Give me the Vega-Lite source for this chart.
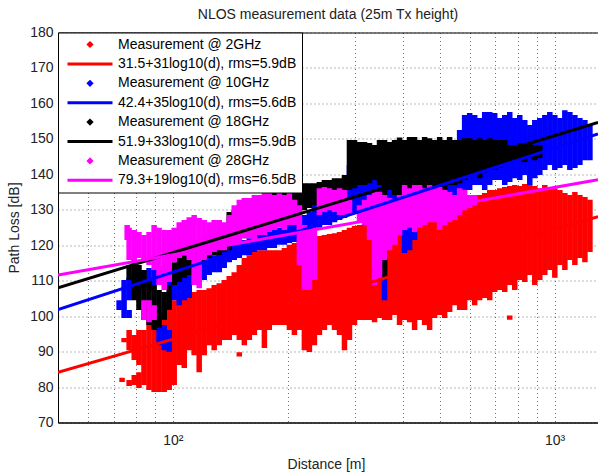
{
"$schema":"https://vega.github.io/schema/vega-lite/v6.json",
"width":540,"height":390,"autosize":"none",
"padding":{"left":58,"top":32.5,"right":0,"bottom":51.5},
"title":{"text":"NLOS measurement data (25m Tx height)","font":"Liberation Sans","fontSize":14,"fontWeight":"normal","color":"#222","offset":4,"anchor":"middle"},
"datasets":{
"streaks":[
{"s":"m2","d":73.6,"lo":81.4,"hi":82.6},{"s":"m2","d":74.5,"lo":92.6,"hi":93.8},
{"s":"m2","d":76.8,"lo":90.4,"hi":96.1},{"s":"m2","d":76.8,"lo":80.3,"hi":82.0},
{"s":"m2","d":79.2,"lo":87.6,"hi":94.7},{"s":"m2","d":79.2,"lo":80.6,"hi":83.4},
{"s":"m2","d":81.5,"lo":86.2,"hi":96.1},{"s":"m2","d":81.5,"lo":79.7,"hi":84.2},
{"s":"m2","d":84.0,"lo":80.6,"hi":96.1},{"s":"m2","d":86.6,"lo":79.2,"hi":98.9},
{"s":"m2","d":89.3,"lo":78.6,"hi":99.5},{"s":"m2","d":92.0,"lo":78.6,"hi":101.2},
{"s":"m2","d":94.9,"lo":78.6,"hi":103.1},{"s":"m2","d":97.8,"lo":79.2,"hi":103.1},
{"s":"m2","d":100.8,"lo":80.6,"hi":104.5},{"s":"m2","d":103.9,"lo":86.2,"hi":104.5},
{"s":"m2","d":107.1,"lo":85.4,"hi":105.1},{"s":"m2","d":110.4,"lo":90.4,"hi":106.0},
{"s":"m2","d":113.7,"lo":89.0,"hi":106.8},{"s":"m2","d":117.2,"lo":84.2,"hi":107.4},
{"s":"m2","d":120.8,"lo":89.0,"hi":107.4},{"s":"m2","d":124.5,"lo":91.8,"hi":107.9},
{"s":"m2","d":128.3,"lo":90.4,"hi":108.8},{"s":"m2","d":132.3,"lo":91.8,"hi":109.3},
{"s":"m2","d":136.3,"lo":93.3,"hi":110.2},{"s":"m2","d":140.5,"lo":93.3,"hi":111.3},
{"s":"m2","d":144.8,"lo":94.7,"hi":112.4},{"s":"m2","d":149.3,"lo":93.3,"hi":114.4},
{"s":"m2","d":149.3,"lo":88.6,"hi":89.8},{"s":"m2","d":153.9,"lo":91.8,"hi":116.4},
{"s":"m2","d":158.6,"lo":93.3,"hi":117.2},{"s":"m2","d":163.5,"lo":94.7,"hi":118.1},
{"s":"m2","d":168.5,"lo":96.1,"hi":118.6},{"s":"m2","d":173.7,"lo":91.0,"hi":118.6},
{"s":"m2","d":178.9,"lo":96.1,"hi":118.6},{"s":"m2","d":184.5,"lo":97.5,"hi":118.6},
{"s":"m2","d":190.1,"lo":97.5,"hi":118.6},{"s":"m2","d":196.0,"lo":97.5,"hi":119.2},
{"s":"m2","d":202.0,"lo":96.1,"hi":120.1},{"s":"m2","d":208.2,"lo":94.7,"hi":120.6},
{"s":"m2","d":214.5,"lo":96.1,"hi":121.5},{"s":"m2","d":221.1,"lo":90.4,"hi":122.0},
{"s":"m2","d":227.9,"lo":89.9,"hi":122.3},{"s":"m2","d":234.9,"lo":91.8,"hi":122.6},
{"s":"m2","d":242.1,"lo":94.7,"hi":122.6},{"s":"m2","d":249.5,"lo":96.1,"hi":122.9},
{"s":"m2","d":257.2,"lo":97.5,"hi":123.2},{"s":"m2","d":265.1,"lo":96.1,"hi":123.4},
{"s":"m2","d":273.3,"lo":94.7,"hi":123.7},{"s":"m2","d":281.6,"lo":90.4,"hi":124.3},
{"s":"m2","d":290.2,"lo":93.3,"hi":124.9},{"s":"m2","d":299.2,"lo":97.5,"hi":125.4},
{"s":"m2","d":308.3,"lo":98.9,"hi":125.7},{"s":"m2","d":317.8,"lo":98.9,"hi":126.0},
{"s":"m2","d":327.5,"lo":98.9,"hi":126.3},{"s":"m2","d":337.6,"lo":98.3,"hi":126.5},
{"s":"m2","d":347.9,"lo":99.5,"hi":126.5},{"s":"m2","d":358.6,"lo":98.9,"hi":127.1},
{"s":"m2","d":369.6,"lo":98.9,"hi":127.1},{"s":"m2","d":381.0,"lo":100.3,"hi":127.7},
{"s":"m2","d":392.6,"lo":97.5,"hi":127.1},{"s":"m2","d":404.7,"lo":98.9,"hi":127.7},
{"s":"m2","d":417.1,"lo":98.3,"hi":128.2},{"s":"m2","d":429.9,"lo":96.1,"hi":129.4},
{"s":"m2","d":443.1,"lo":98.9,"hi":129.9},{"s":"m2","d":456.7,"lo":97.5,"hi":129.9},
{"s":"m2","d":470.6,"lo":96.1,"hi":130.5},{"s":"m2","d":485.1,"lo":99.5,"hi":130.8},
{"s":"m2","d":500.0,"lo":100.3,"hi":131.1},{"s":"m2","d":515.3,"lo":99.5,"hi":131.3},
{"s":"m2","d":531.1,"lo":101.2,"hi":131.3},{"s":"m2","d":547.4,"lo":103.1,"hi":131.9},
{"s":"m2","d":564.1,"lo":101.7,"hi":132.8},{"s":"m2","d":581.4,"lo":101.7,"hi":132.8},
{"s":"m2","d":599.3,"lo":104.5,"hi":133.3},{"s":"m2","d":617.7,"lo":103.1,"hi":133.6},
{"s":"m2","d":636.6,"lo":104.5,"hi":134.2},{"s":"m2","d":656.2,"lo":105.1,"hi":134.7},
{"s":"m2","d":676.4,"lo":104.5,"hi":135.6},{"s":"m2","d":697.1,"lo":106.8,"hi":135.6},
{"s":"m2","d":718.5,"lo":107.4,"hi":136.1},{"s":"m2","d":740.6,"lo":106.8,"hi":136.4},
{"s":"m2","d":763.3,"lo":108.8,"hi":136.7},{"s":"m2","d":763.3,"lo":99.0,"hi":100.2},
{"s":"m2","d":786.7,"lo":107.4,"hi":137.0},{"s":"m2","d":810.9,"lo":110.2,"hi":136.7},
{"s":"m2","d":835.7,"lo":109.6,"hi":137.3},{"s":"m2","d":861.4,"lo":111.6,"hi":137.0},
{"s":"m2","d":887.8,"lo":108.8,"hi":136.7},{"s":"m2","d":915.0,"lo":110.2,"hi":136.1},
{"s":"m2","d":943.1,"lo":111.6,"hi":137.0},{"s":"m2","d":972.0,"lo":113.0,"hi":136.4},
{"s":"m2","d":1001.8,"lo":110.8,"hi":136.1},{"s":"m2","d":1032.6,"lo":114.4,"hi":135.6},
{"s":"m2","d":1064.3,"lo":113.0,"hi":134.7},{"s":"m2","d":1097.0,"lo":115.8,"hi":134.2},
{"s":"m2","d":1130.7,"lo":114.4,"hi":135.0},{"s":"m2","d":1165.4,"lo":116.4,"hi":134.2},
{"s":"m2","d":1201.2,"lo":115.2,"hi":133.6},{"s":"m2","d":1238.1,"lo":118.1,"hi":132.8},

{"s":"m10","d":72.3,"lo":101.7,"hi":104.5},{"s":"m10","d":74.5,"lo":99.5,"hi":110.2},
{"s":"m10","d":76.8,"lo":104.5,"hi":110.8},{"s":"m10","d":76.8,"lo":99.5,"hi":101.7},
{"s":"m10","d":79.2,"lo":106.0,"hi":111.6},{"s":"m10","d":81.5,"lo":107.4,"hi":112.4},
{"s":"m10","d":84.0,"lo":108.8,"hi":113.0},{"s":"m10","d":86.6,"lo":107.4,"hi":113.6},
{"s":"m10","d":89.3,"lo":108.8,"hi":113.0},{"s":"m10","d":92.0,"lo":108.8,"hi":113.6},
{"s":"m10","d":92.0,"lo":91.8,"hi":97.5},{"s":"m10","d":94.9,"lo":109.6,"hi":113.0},
{"s":"m10","d":94.9,"lo":90.4,"hi":97.5},{"s":"m10","d":97.8,"lo":108.8,"hi":114.4},
{"s":"m10","d":97.8,"lo":89.9,"hi":96.1},{"s":"m10","d":100.8,"lo":104.5,"hi":113.6},
{"s":"m10","d":103.9,"lo":103.1,"hi":113.6},{"s":"m10","d":107.1,"lo":104.5,"hi":113.0},
{"s":"m10","d":110.4,"lo":105.1,"hi":113.6},{"s":"m10","d":113.7,"lo":108.8,"hi":115.2},
{"s":"m10","d":117.2,"lo":109.6,"hi":115.8},{"s":"m10","d":120.8,"lo":110.2,"hi":116.4},
{"s":"m10","d":124.5,"lo":111.6,"hi":117.2},{"s":"m10","d":128.3,"lo":112.4,"hi":117.2},
{"s":"m10","d":132.3,"lo":112.4,"hi":118.1},{"s":"m10","d":136.3,"lo":113.6,"hi":118.6},
{"s":"m10","d":140.5,"lo":115.2,"hi":120.1},{"s":"m10","d":144.8,"lo":115.8,"hi":120.6},
{"s":"m10","d":149.3,"lo":116.4,"hi":120.9},{"s":"m10","d":153.9,"lo":117.2,"hi":121.5},
{"s":"m10","d":158.6,"lo":117.2,"hi":122.0},{"s":"m10","d":163.5,"lo":118.1,"hi":122.6},
{"s":"m10","d":168.5,"lo":118.6,"hi":122.9},{"s":"m10","d":173.7,"lo":118.6,"hi":123.4},
{"s":"m10","d":178.9,"lo":119.2,"hi":123.7},{"s":"m10","d":184.5,"lo":119.2,"hi":124.3},
{"s":"m10","d":190.1,"lo":120.1,"hi":124.9},{"s":"m10","d":196.0,"lo":120.1,"hi":125.1},
{"s":"m10","d":202.0,"lo":120.6,"hi":125.7},{"s":"m10","d":208.2,"lo":120.9,"hi":126.5},
{"s":"m10","d":214.5,"lo":122.0,"hi":127.7},{"s":"m10","d":221.1,"lo":122.9,"hi":128.5},
{"s":"m10","d":227.9,"lo":123.7,"hi":129.4},{"s":"m10","d":234.9,"lo":124.3,"hi":136.1},
{"s":"m10","d":242.1,"lo":124.9,"hi":136.1},{"s":"m10","d":249.5,"lo":125.7,"hi":135.6},
{"s":"m10","d":257.2,"lo":125.7,"hi":131.3},{"s":"m10","d":265.1,"lo":126.5,"hi":131.3},
{"s":"m10","d":273.3,"lo":127.1,"hi":132.8},{"s":"m10","d":281.6,"lo":127.7,"hi":133.3},
{"s":"m10","d":290.2,"lo":128.5,"hi":142.6},{"s":"m10","d":299.2,"lo":129.4,"hi":142.6},
{"s":"m10","d":308.3,"lo":129.9,"hi":141.8},{"s":"m10","d":317.8,"lo":129.9,"hi":141.2},
{"s":"m10","d":327.5,"lo":129.9,"hi":140.6},{"s":"m10","d":337.6,"lo":130.5,"hi":141.2},
{"s":"m10","d":347.9,"lo":131.3,"hi":141.2},{"s":"m10","d":358.6,"lo":104.5,"hi":140.6},
{"s":"m10","d":369.6,"lo":131.3,"hi":141.2},{"s":"m10","d":381.0,"lo":131.3,"hi":141.8},
{"s":"m10","d":392.6,"lo":128.5,"hi":141.2},{"s":"m10","d":404.7,"lo":117.8,"hi":140.6},
{"s":"m10","d":417.1,"lo":118.6,"hi":139.8},{"s":"m10","d":429.9,"lo":121.5,"hi":138.9},
{"s":"m10","d":443.1,"lo":128.5,"hi":138.4},{"s":"m10","d":456.7,"lo":129.4,"hi":138.9},
{"s":"m10","d":470.6,"lo":129.9,"hi":139.8},{"s":"m10","d":485.1,"lo":129.9,"hi":141.2},
{"s":"m10","d":500.0,"lo":129.9,"hi":142.6},{"s":"m10","d":515.3,"lo":131.3,"hi":144.0},
{"s":"m10","d":531.1,"lo":132.8,"hi":145.4},{"s":"m10","d":547.4,"lo":132.8,"hi":146.9},
{"s":"m10","d":564.1,"lo":134.2,"hi":152.5},{"s":"m10","d":581.4,"lo":135.6,"hi":156.7},
{"s":"m10","d":599.3,"lo":135.6,"hi":157.3},{"s":"m10","d":617.7,"lo":137.0,"hi":156.7},
{"s":"m10","d":636.6,"lo":137.0,"hi":155.9},{"s":"m10","d":656.2,"lo":135.6,"hi":157.6},
{"s":"m10","d":676.4,"lo":137.0,"hi":157.6},{"s":"m10","d":697.1,"lo":138.4,"hi":157.3},
{"s":"m10","d":718.5,"lo":138.4,"hi":155.9},{"s":"m10","d":740.6,"lo":137.0,"hi":156.7},
{"s":"m10","d":763.3,"lo":137.8,"hi":157.6},{"s":"m10","d":786.7,"lo":138.9,"hi":155.9},
{"s":"m10","d":810.9,"lo":138.4,"hi":156.7},{"s":"m10","d":835.7,"lo":139.8,"hi":155.3},
{"s":"m10","d":861.4,"lo":137.0,"hi":153.9},{"s":"m10","d":887.8,"lo":138.9,"hi":155.3},
{"s":"m10","d":915.0,"lo":139.8,"hi":155.9},{"s":"m10","d":943.1,"lo":141.2,"hi":156.7},
{"s":"m10","d":972.0,"lo":142.6,"hi":157.6},{"s":"m10","d":1001.8,"lo":141.2,"hi":156.7},
{"s":"m10","d":1032.6,"lo":141.8,"hi":155.9},{"s":"m10","d":1064.3,"lo":142.6,"hi":158.1},
{"s":"m10","d":1097.0,"lo":141.2,"hi":157.6},{"s":"m10","d":1130.7,"lo":141.8,"hi":156.7},
{"s":"m10","d":1165.4,"lo":142.6,"hi":155.9},{"s":"m10","d":1201.2,"lo":144.0,"hi":155.3},
{"s":"m10","d":1238.1,"lo":144.0,"hi":153.9},

{"s":"m18","d":76.8,"lo":110.2,"hi":114.4},{"s":"m18","d":79.2,"lo":104.5,"hi":115.8},
{"s":"m18","d":81.5,"lo":101.7,"hi":114.4},{"s":"m18","d":84.0,"lo":98.9,"hi":113.0},
{"s":"m18","d":86.6,"lo":97.5,"hi":110.2},{"s":"m18","d":89.3,"lo":96.1,"hi":108.8},
{"s":"m18","d":92.0,"lo":96.7,"hi":107.4},{"s":"m18","d":94.9,"lo":98.9,"hi":106.8},
{"s":"m18","d":97.8,"lo":101.7,"hi":108.8},{"s":"m18","d":100.8,"lo":108.8,"hi":115.2},
{"s":"m18","d":103.9,"lo":109.6,"hi":116.4},{"s":"m18","d":107.1,"lo":110.8,"hi":117.2},
{"s":"m18","d":110.4,"lo":111.6,"hi":118.6},{"s":"m18","d":113.7,"lo":113.6,"hi":120.1},
{"s":"m18","d":117.2,"lo":114.4,"hi":121.5},{"s":"m18","d":120.8,"lo":115.2,"hi":122.0},
{"s":"m18","d":124.5,"lo":116.4,"hi":122.9},{"s":"m18","d":128.3,"lo":117.2,"hi":123.7},
{"s":"m18","d":132.3,"lo":117.2,"hi":124.3},{"s":"m18","d":136.3,"lo":118.1,"hi":124.9},
{"s":"m18","d":140.5,"lo":118.6,"hi":129.4},{"s":"m18","d":144.8,"lo":120.1,"hi":129.9},
{"s":"m18","d":149.3,"lo":121.5,"hi":131.3},{"s":"m18","d":153.9,"lo":122.0,"hi":131.3},
{"s":"m18","d":158.6,"lo":122.9,"hi":132.8},{"s":"m18","d":163.5,"lo":123.7,"hi":132.8},
{"s":"m18","d":168.5,"lo":124.3,"hi":133.3},{"s":"m18","d":173.7,"lo":124.9,"hi":134.2},
{"s":"m18","d":178.9,"lo":125.7,"hi":134.2},{"s":"m18","d":184.5,"lo":126.5,"hi":134.7},
{"s":"m18","d":190.1,"lo":126.5,"hi":135.0},{"s":"m18","d":196.0,"lo":127.1,"hi":135.6},
{"s":"m18","d":202.0,"lo":127.7,"hi":135.6},{"s":"m18","d":208.2,"lo":128.5,"hi":136.1},
{"s":"m18","d":214.5,"lo":129.4,"hi":137.0},{"s":"m18","d":221.1,"lo":129.9,"hi":137.5},
{"s":"m18","d":227.9,"lo":130.5,"hi":137.5},{"s":"m18","d":234.9,"lo":131.3,"hi":137.5},
{"s":"m18","d":242.1,"lo":131.3,"hi":137.8},{"s":"m18","d":249.5,"lo":131.9,"hi":138.4},
{"s":"m18","d":257.2,"lo":132.8,"hi":138.4},{"s":"m18","d":265.1,"lo":132.8,"hi":138.9},
{"s":"m18","d":273.3,"lo":133.3,"hi":138.9},{"s":"m18","d":281.6,"lo":134.2,"hi":139.8},
{"s":"m18","d":290.2,"lo":135.6,"hi":149.7},{"s":"m18","d":299.2,"lo":136.1,"hi":149.7},
{"s":"m18","d":308.3,"lo":137.0,"hi":149.1},{"s":"m18","d":317.8,"lo":137.0,"hi":149.1},
{"s":"m18","d":327.5,"lo":137.5,"hi":148.8},{"s":"m18","d":337.6,"lo":138.4,"hi":148.3},
{"s":"m18","d":347.9,"lo":137.0,"hi":149.7},{"s":"m18","d":358.6,"lo":110.2,"hi":149.7},
{"s":"m18","d":369.6,"lo":135.6,"hi":149.1},{"s":"m18","d":381.0,"lo":134.2,"hi":149.7},
{"s":"m18","d":392.6,"lo":132.8,"hi":150.4},{"s":"m18","d":404.7,"lo":129.9,"hi":149.7},
{"s":"m18","d":417.1,"lo":125.7,"hi":150.5},{"s":"m18","d":429.9,"lo":132.8,"hi":150.5},
{"s":"m18","d":443.1,"lo":134.2,"hi":149.7},{"s":"m18","d":456.7,"lo":135.6,"hi":150.5},
{"s":"m18","d":470.6,"lo":135.0,"hi":150.2},{"s":"m18","d":485.1,"lo":135.6,"hi":149.7},
{"s":"m18","d":500.0,"lo":136.1,"hi":150.5},{"s":"m18","d":515.3,"lo":135.6,"hi":149.7},
{"s":"m18","d":531.1,"lo":137.0,"hi":150.5},{"s":"m18","d":547.4,"lo":137.0,"hi":149.7},
{"s":"m18","d":564.1,"lo":137.5,"hi":149.7},{"s":"m18","d":581.4,"lo":138.4,"hi":150.2},
{"s":"m18","d":599.3,"lo":139.8,"hi":150.2},{"s":"m18","d":617.7,"lo":139.8,"hi":149.7},
{"s":"m18","d":636.6,"lo":138.9,"hi":150.2},{"s":"m18","d":656.2,"lo":140.6,"hi":149.7},
{"s":"m18","d":676.4,"lo":141.2,"hi":150.2},{"s":"m18","d":697.1,"lo":141.2,"hi":149.7},
{"s":"m18","d":718.5,"lo":141.8,"hi":149.7},{"s":"m18","d":740.6,"lo":142.6,"hi":149.7},
{"s":"m18","d":763.3,"lo":143.5,"hi":148.3},{"s":"m18","d":786.7,"lo":144.0,"hi":148.3},
{"s":"m18","d":810.9,"lo":144.0,"hi":148.8},{"s":"m18","d":835.7,"lo":143.5,"hi":148.3},
{"s":"m18","d":861.4,"lo":144.6,"hi":149.1},{"s":"m18","d":887.8,"lo":144.0,"hi":148.3},
{"s":"m18","d":915.0,"lo":144.6,"hi":148.3},

{"s":"m28","d":75.9,"lo":121.5,"hi":125.7},{"s":"m28","d":76.8,"lo":115.8,"hi":124.9},
{"s":"m28","d":79.2,"lo":115.2,"hi":124.3},{"s":"m28","d":81.5,"lo":116.4,"hi":123.7},
{"s":"m28","d":84.0,"lo":115.8,"hi":122.9},{"s":"m28","d":84.0,"lo":98.9,"hi":104.5},
{"s":"m28","d":86.6,"lo":114.4,"hi":123.7},{"s":"m28","d":86.6,"lo":98.3,"hi":104.5},
{"s":"m28","d":89.3,"lo":113.0,"hi":125.7},{"s":"m28","d":89.3,"lo":98.9,"hi":103.1},
{"s":"m28","d":92.0,"lo":108.8,"hi":124.9},{"s":"m28","d":94.9,"lo":107.4,"hi":124.3},
{"s":"m28","d":97.8,"lo":109.6,"hi":124.3},{"s":"m28","d":100.8,"lo":115.2,"hi":124.9},
{"s":"m28","d":103.9,"lo":116.4,"hi":126.5},{"s":"m28","d":107.1,"lo":117.2,"hi":127.1},
{"s":"m28","d":110.4,"lo":115.8,"hi":127.9},{"s":"m28","d":113.7,"lo":108.8,"hi":128.5},
{"s":"m28","d":117.2,"lo":107.9,"hi":127.7},{"s":"m28","d":120.8,"lo":115.8,"hi":127.1},
{"s":"m28","d":124.5,"lo":117.2,"hi":126.5},{"s":"m28","d":128.3,"lo":118.1,"hi":127.1},
{"s":"m28","d":132.3,"lo":118.6,"hi":127.1},{"s":"m28","d":136.3,"lo":118.6,"hi":126.5},
{"s":"m28","d":140.5,"lo":120.1,"hi":128.5},{"s":"m28","d":144.8,"lo":120.1,"hi":131.3},
{"s":"m28","d":149.3,"lo":120.9,"hi":132.8},{"s":"m28","d":153.9,"lo":122.0,"hi":133.3},
{"s":"m28","d":158.6,"lo":122.0,"hi":133.3},{"s":"m28","d":163.5,"lo":121.5,"hi":134.2},
{"s":"m28","d":168.5,"lo":122.9,"hi":134.2},{"s":"m28","d":173.7,"lo":122.9,"hi":135.0},
{"s":"m28","d":178.9,"lo":123.7,"hi":134.7},{"s":"m28","d":184.5,"lo":124.3,"hi":134.2},
{"s":"m28","d":190.1,"lo":124.9,"hi":135.0},{"s":"m28","d":196.0,"lo":124.3,"hi":134.2},
{"s":"m28","d":202.0,"lo":125.7,"hi":135.6},{"s":"m28","d":208.2,"lo":125.7,"hi":132.8},
{"s":"m28","d":214.5,"lo":114.4,"hi":131.3},{"s":"m28","d":221.1,"lo":107.4,"hi":125.7},
{"s":"m28","d":227.9,"lo":107.4,"hi":124.9},{"s":"m28","d":234.9,"lo":110.2,"hi":125.7},
{"s":"m28","d":242.1,"lo":128.5,"hi":136.1},{"s":"m28","d":249.5,"lo":129.4,"hi":136.4},
{"s":"m28","d":257.2,"lo":129.9,"hi":136.1},{"s":"m28","d":265.1,"lo":129.4,"hi":135.6},
{"s":"m28","d":273.3,"lo":128.5,"hi":136.1},{"s":"m28","d":281.6,"lo":128.5,"hi":135.6},
{"s":"m28","d":290.2,"lo":128.5,"hi":132.8},{"s":"m28","d":308.3,"lo":126.5,"hi":131.3},
{"s":"m28","d":317.8,"lo":125.7,"hi":132.8},{"s":"m28","d":327.5,"lo":121.5,"hi":134.2},
{"s":"m28","d":337.6,"lo":108.8,"hi":135.6},{"s":"m28","d":347.9,"lo":110.2,"hi":135.0},
{"s":"m28","d":358.6,"lo":115.8,"hi":134.2},{"s":"m28","d":369.6,"lo":118.6,"hi":133.3},
{"s":"m28","d":381.0,"lo":120.1,"hi":132.8},{"s":"m28","d":392.6,"lo":122.9,"hi":134.2},
{"s":"m28","d":404.7,"lo":124.3,"hi":137.0},{"s":"m28","d":417.1,"lo":124.9,"hi":136.1},
{"s":"m28","d":429.9,"lo":123.7,"hi":137.0},{"s":"m28","d":443.1,"lo":124.9,"hi":137.0},
{"s":"m28","d":456.7,"lo":125.7,"hi":136.1},{"s":"m28","d":470.6,"lo":126.5,"hi":137.0},
{"s":"m28","d":485.1,"lo":126.5,"hi":136.1},{"s":"m28","d":500.0,"lo":124.3,"hi":136.4},
{"s":"m28","d":515.3,"lo":125.7,"hi":135.6},{"s":"m28","d":531.1,"lo":126.5,"hi":135.0},
{"s":"m28","d":547.4,"lo":127.1,"hi":134.2},{"s":"m28","d":564.1,"lo":128.5,"hi":136.1},
{"s":"m28","d":581.4,"lo":129.9,"hi":135.6},{"s":"m28","d":599.3,"lo":130.5,"hi":134.2},
{"s":"m28","d":617.7,"lo":131.3,"hi":134.2}
],
"fits":[
{"s":"f2","d":50,"lo":84.17},{"s":"f2","d":1300,"lo":128.03},
{"s":"f10","d":50,"lo":101.86},{"s":"f10","d":1300,"lo":151.39},
{"s":"f18","d":50,"lo":107.97},{"s":"f18","d":1300,"lo":154.66},
{"s":"f28","d":50,"lo":111.58},{"s":"f28","d":1300,"lo":138.47}
]},
"encoding":{
"x":{"field":"d","type":"quantitative","scale":{"type":"log","domain":[50,1300],"nice":false},
"axis":{"title":"Distance [m]","values":[60,70,80,90,100,200,300,400,500,600,700,800,900,1000],
"labelExpr":"datum.value==100?'10²':datum.value==1000?'10³':''","labelOverlap":false,"labelFlush":false,"labelPadding":11,
"titleX":268,"titleY":35,"titleBaseline":"top","titleAlign":"center"}},
"y":{"field":"lo","type":"quantitative","scale":{"domain":[70,180],"nice":false,"zero":false},
"axis":{"title":"Path Loss [dB]","values":[70,80,90,100,110,120,130,140,150,160,170,180],"labelPadding":5,"labelOverlap":false,
"titleX":-40,"titleY":195,"titleAngle":270,"titleAlign":"center","titleBaseline":"alphabetic"}},
"color":{"field":"s","type":"nominal",
"scale":{"domain":["m2","f2","m10","f10","m18","f18","m28","f28"],"range":["#ff0000","#ff0000","#0000ff","#0000ff","#000000","#000000","#ff00ff","#ff00ff"]},
"legend":{"title":null,"orient":"top-left","offset":0,"padding":5,"rowPadding":4.4,"symbolOffset":20,"labelOffset":21,
"labelFont":"Liberation Sans","labelFontSize":14,"labelColor":"#000","labelLimit":400,
"symbolSize":100,"symbolStrokeWidth":3,
"labelExpr":"datum.value=='m2'?'Measurement @ 2GHz':datum.value=='f2'?'31.5+31log10(d), rms=5.9dB':datum.value=='m10'?'Measurement @ 10GHz':datum.value=='f10'?'42.4+35log10(d), rms=5.6dB':datum.value=='m18'?'Measurement @ 18GHz':datum.value=='f18'?'51.9+33log10(d), rms=5.9dB':datum.value=='m28'?'Measurement @ 28GHz':'79.3+19log10(d), rms=6.5dB'",
"encode":{
"legend":{"update":{"stroke":{"value":"#000"},"strokeWidth":{"value":1},"fill":{"value":"#fff"}}},
"symbols":{"update":{
"shape":{"signal":"indexof(datum.value,'f')==0 ? 'M-4.5,0L4.5,0' : 'M0,-0.3L0.3,0L0,0.3L-0.3,0Z'"},
"size":{"value":100},"strokeWidth":{"value":3},
"fill":{"scale":"color","field":"value"},"stroke":{"scale":"color","field":"value"},"opacity":{"value":1}}}}}}
},
"layer":[
{"data":{"name":"streaks"},"mark":{"type":"rule","strokeWidth":5.5,"strokeCap":"butt","clip":true},
"encoding":{"y2":{"field":"hi"}}},
{"data":{"name":"fits"},"mark":{"type":"line","strokeWidth":3,"clip":true}}
],
"config":{
"font":"Liberation Sans",
"view":{"stroke":"#000","strokeWidth":1},
"axis":{"labelFont":"Liberation Sans","labelFontSize":14,"labelColor":"#222","titleFont":"Liberation Sans","titleFontSize":14,"titleFontWeight":"normal","titleColor":"#222",
"domainColor":"#000","grid":true,"gridColor":"#000","gridDash":[1,3],"gridOpacity":0.55,"ticks":false}
}
}
